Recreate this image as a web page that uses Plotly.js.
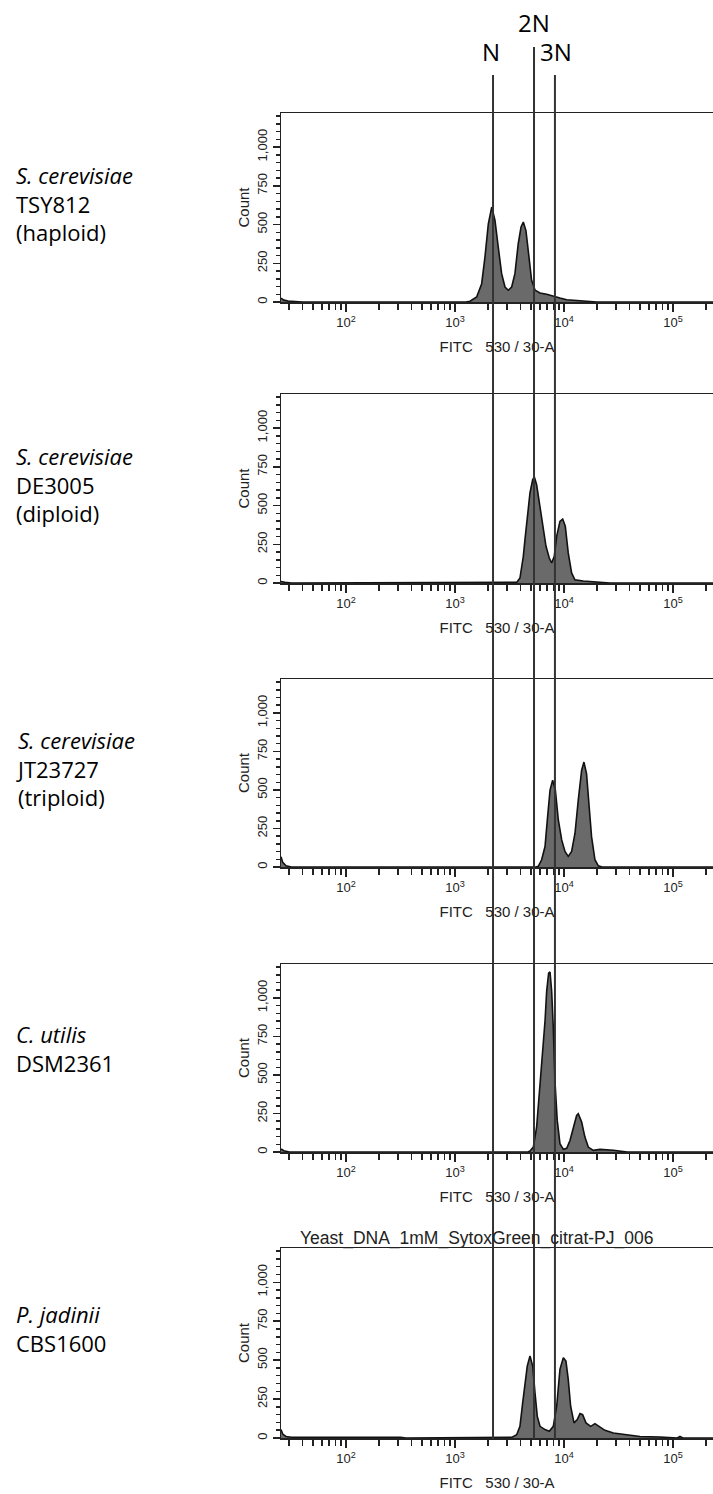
<!DOCTYPE html>
<html>
<head>
<meta charset="utf-8">
<script src="https://cdn.plot.ly/plotly-3.0.1.min.js"></script>
<style>html,body{margin:0;padding:0;background:#fff;}#chart{width:713px;height:1494px;}</style>
</head>
<body>
<div id="chart"></div>
<script>
// ---- data: x = log10(FITC 530/30-A), y = count ----
const haploidLogFITC = [1.404, 1.43, 1.47, 1.52, 1.6, 3.10, 3.138, 3.199, 3.245, 3.275, 3.306, 3.337, 3.367, 3.397, 3.428, 3.459, 3.489, 3.52, 3.55, 3.58, 3.606, 3.627, 3.651, 3.679, 3.703, 3.734, 3.78, 3.841, 3.9, 3.963, 4.025, 4.147, 4.24, 4.3, 5.367];
const haploidCount   = [25, 12, 6, 3, 0, 0, 5, 32, 118, 290, 505, 613, 527, 355, 183, 97, 76, 97, 183, 376, 484, 516, 461, 290, 140, 77, 58, 50, 37, 26, 15, 8, 4, 0, 0];

const diploidLogFITC = [1.404, 1.44, 1.5, 3.55, 3.566, 3.596, 3.627, 3.642, 3.663, 3.688, 3.713, 3.728, 3.749, 3.774, 3.804, 3.835, 3.865, 3.887, 3.911, 3.933, 3.963, 3.988, 4.012, 4.039, 4.07, 4.1, 4.177, 4.239, 4.361, 4.42, 5.367];
const diploidCount   = [10, 4, 0, 0, 4, 32, 172, 280, 409, 581, 667, 684, 634, 516, 366, 237, 161, 129, 172, 301, 398, 413, 366, 194, 65, 21, 13, 10, 4, 0, 0];

const triploidLogFITC = [1.404, 1.42, 1.45, 1.5, 3.74, 3.764, 3.795, 3.826, 3.847, 3.872, 3.896, 3.921, 3.948, 3.979, 4.009, 4.039, 4.07, 4.101, 4.131, 4.162, 4.183, 4.207, 4.231, 4.253, 4.284, 4.315, 4.35, 5.367];
const triploidCount   = [66, 30, 8, 0, 0, 4, 47, 133, 305, 499, 563, 499, 305, 176, 101, 69, 101, 219, 434, 628, 681, 606, 391, 197, 47, 8, 0, 0];

const utilisLogFITC = [1.404, 1.43, 1.48, 3.67, 3.688, 3.719, 3.749, 3.78, 3.804, 3.826, 3.841, 3.859, 3.872, 3.887, 3.902, 3.917, 3.938, 3.963, 3.994, 4.025, 4.055, 4.086, 4.116, 4.131, 4.162, 4.192, 4.223, 4.269, 4.33, 4.453, 4.545, 4.58, 5.367];
const utilisCount   = [20, 8, 0, 0, 6, 32, 161, 419, 656, 850, 1043, 1161, 1168, 1043, 806, 463, 205, 54, 17, 24, 75, 161, 237, 248, 194, 97, 32, 11, 17, 11, 4, 0, 0];

const jadiniiLogFITC = [1.404, 1.42, 1.45, 1.5, 1.7, 2.0, 2.3, 2.5, 2.55, 3.50, 3.52, 3.566, 3.596, 3.621, 3.642, 3.663, 3.688, 3.713, 3.734, 3.755, 3.78, 3.826, 3.865, 3.902, 3.933, 3.963, 3.994, 4.018, 4.039, 4.061, 4.092, 4.122, 4.147, 4.171, 4.202, 4.245, 4.284, 4.324, 4.376, 4.453, 4.575, 4.697, 4.881, 5.003, 5.04, 5.064, 5.09, 5.367];
const jadiniiCount   = [55, 25, 10, 5, 5, 5, 5, 4, 0, 0, 4, 21, 75, 226, 333, 462, 526, 462, 290, 139, 75, 54, 43, 75, 204, 441, 516, 494, 376, 204, 97, 118, 157, 150, 97, 75, 92, 71, 49, 32, 19, 10, 6, 4, 0, 10, 0, 0];

const strainNames = [
  ["<i>S. cerevisiae</i>", "TSY812", "(haploid)"],
  ["<i>S. cerevisiae</i>", "DE3005", "(diploid)"],
  ["<i>S. cerevisiae</i>", "JT23727", "(triploid)"],
  ["<i>C. utilis</i>", "DSM2361"],
  ["<i>P. jadinii</i>", "CBS1600"]
];
const ploidyLabels = ["N", "2N", "3N"];
const ploidyLogFITC = [3.349, 3.725, 3.917];
const xTickExponents = [2, 3, 4, 5];
const xTickText = ["10<sup>2</sup>", "10<sup>3</sup>", "10<sup>4</sup>", "10<sup>5</sup>"];
const xMinorValues = [30,40,50,60,70,80,90,200,300,400,500,600,700,800,900,2000,3000,4000,5000,6000,7000,8000,9000,20000,30000,40000,50000,60000,70000,80000,90000,200000];
const yTickValues = [0, 250, 500, 750, 1000];
const yTickText = ["0", "250", "500", "750", "1,000"];
const xTitle = "FITC\u00a0\u00a0\u00a0530 / 30-A";
const lastPanelTitle = "Yeast_DNA_1mM_SytoxGreen_citrat-PJ_006";

const seriesX = [haploidLogFITC, diploidLogFITC, triploidLogFITC, utilisLogFITC, jadiniiLogFITC];
const seriesY = [haploidCount, diploidCount, triploidCount, utilisCount, jadiniiCount];

// ---- layout geometry (pixels) ----
const W = 713, H = 1494, L = 281;
const panelTop = [113, 394, 679, 964, 1248];
const panelBase = [302, 583, 867, 1152, 1438];
const labelCenterY = [203, 484, 769, 1048, 1328];
const py = p => 1 - p / H;
const px = p => (p - L) / (W - L);

const plotFont = "Liberation Sans, Arial, sans-serif";
const textCol = "#222";

const traces = [];
const layout = {
  width: W, height: H,
  margin: {l: L, r: 0, t: 0, b: 0, pad: 0},
  paper_bgcolor: "#fff", plot_bgcolor: "#fff",
  showlegend: false,
  shapes: [], annotations: []
};

for (let i = 0; i < 5; i++) {
  const sfx = i === 0 ? "" : String(i + 1);
  traces.push({
    x: seriesX[i], y: seriesY[i],
    xaxis: "x" + sfx, yaxis: "y" + sfx,
    type: "scatter", mode: "lines",
    line: {color: "#111", width: 1.6, shape: "linear"},
    fill: "tozeroy", fillcolor: "#6a6a6a",
    hoverinfo: "skip"
  });
  layout["xaxis" + sfx] = {
    domain: [0, 1], anchor: "y" + sfx, range: [1.404, 5.367],
    showgrid: false, zeroline: false,
    showline: true, linecolor: "#222", linewidth: 1.5, mirror: true,
    ticks: "outside", ticklen: 8, tickwidth: 1.5, tickcolor: "#222",
    tickmode: "array", tickvals: xTickExponents, ticktext: xTickText,
    minor: {tickmode: "array", tickvals: xMinorValues.map(v => Math.log10(v)), ticks: "outside", ticklen: 6, tickwidth: 1.5, tickcolor: "#222", showgrid: false},
    tickfont: {family: plotFont, size: 13, color: textCol},
    title: {text: xTitle, font: {family: plotFont, size: 15, color: textCol}, standoff: 12},
    fixedrange: true
  };
  layout["yaxis" + sfx] = {
    domain: [py(panelBase[i]), py(panelTop[i])], anchor: "x" + sfx, range: [0, 1220],
    showgrid: false, zeroline: false,
    showline: true, linecolor: "#222", linewidth: 1.5, mirror: false,
    ticks: "outside", ticklen: 7, tickwidth: 1.5, tickcolor: "#222",
    tickmode: "array", tickvals: yTickValues, ticktext: yTickText, tickangle: -90,
    minor: {dtick: 50, tick0: 0, ticks: "outside", ticklen: 4, tickwidth: 1.5, tickcolor: "#222", showgrid: false},
    tickfont: {family: plotFont, size: 13, color: textCol},
    title: {text: "Count", font: {family: plotFont, size: 15, color: textCol}, standoff: 2},
    fixedrange: true
  };
  layout.annotations.push({
    xref: "paper", yref: "paper", x: px(14), y: py(labelCenterY[i]),
    xanchor: "left", yanchor: "middle", align: "left", showarrow: false,
    text: strainNames[i].join("<br>"),
    font: {family: "Open Sans, Noto Sans, sans-serif", size: 22, color: "#000"}
  });
}

// panel 5 title
layout.annotations.push({
  xref: "paper", yref: "paper", x: px(476), y: py(1238),
  xanchor: "center", yanchor: "middle", showarrow: false, text: lastPanelTitle,
  font: {family: plotFont, size: 17.5, color: textCol}
});

// ploidy reference lines and labels
const lineTop = [75, 47, 75];
const labelTopY = [52, 23, 52];
const labelDx = [-2, 0, 1];
ploidyLogFITC.forEach((v, k) => {
  layout.shapes.push({
    type: "line", xref: "x", yref: "paper", x0: v, x1: v,
    y0: py(1439), y1: py(lineTop[k]),
    line: {color: "#333", width: 2}, layer: "above"
  });
  layout.annotations.push({
    xref: "x", yref: "paper", x: v, y: py(labelTopY[k]), xshift: labelDx[k],
    xanchor: "center", yanchor: "middle", showarrow: false, text: ploidyLabels[k],
    font: {family: "Open Sans, Noto Sans, sans-serif", size: 24, color: "#000"}
  });
});

Plotly.newPlot("chart", traces, layout, {staticPlot: true, displayModeBar: false});
</script>
</body>
</html>
